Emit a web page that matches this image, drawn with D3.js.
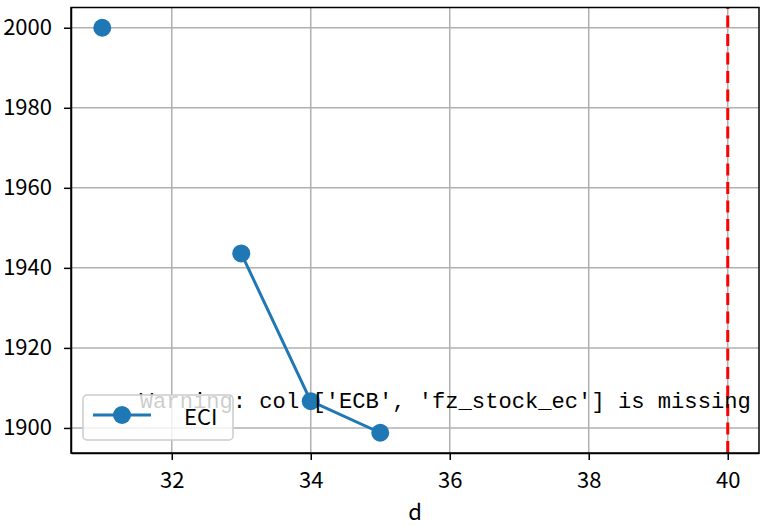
<!DOCTYPE html>
<html lang="zh">
<head>
    <meta charset="UTF-8">
    <title>ECI</title>
    <script src="https://d3js.org/d3.v7.min.js"></script>
    <style>
        body { margin: 0; background: #fff; }
        svg { display: block; font-family: "Noto Sans CJK SC", "DejaVu Sans", sans-serif; }
        .grid line { stroke: #b0b0b0; stroke-width: 1.5px; }
        .axis path, .axis line { stroke: #000; stroke-width: 1.5px; }
        .axis text { font-size: 22px; fill: #000; font-family: "Noto Sans CJK SC", sans-serif; }
    </style>
</head>
<body>
    <svg width="769" height="526"></svg>
    <script>
        // data
        const dVals = [31, 32, 33, 34, 35];
        const eciVals = [2000, null, 1943.6, 1906.7, 1898.8];
        const xTicks = [32, 34, 36, 38, 40];
        const yTicks = [1900, 1920, 1940, 1960, 1980, 2000];
        const vlineX = 40;
        const warnText = "Warning: col ['ECB', 'fz_stock_ec'] is missing";

        const width = 769, height = 526;
        const m = { left: 71, right: 10, top: 7.5, bottom: 73 };
        const iw = width - m.left - m.right, ih = height - m.top - m.bottom;

        const svg = d3.select("svg");
        const g = svg.append("g").attr("transform", `translate(${m.left},${m.top})`);

        // matplotlib style 5% margins
        const pad = (lo, hi) => [lo - (hi - lo) * 0.05, hi + (hi - lo) * 0.05];
        const yv = eciVals.filter(v => v != null);
        const x = d3.scaleLinear().domain(pad(d3.min(dVals), Math.max(d3.max(dVals), vlineX))).range([0, iw]);
        const y = d3.scaleLinear().domain(pad(d3.min(yv), d3.max(yv))).range([ih, 0]);

        // grid
        const grid = g.append("g").attr("class", "grid");
        grid.selectAll(".gx").data(xTicks).enter().append("line")
            .attr("x1", d => x(d)).attr("x2", d => x(d)).attr("y1", 0).attr("y2", ih);
        grid.selectAll(".gy").data(yTicks).enter().append("line")
            .attr("y1", d => y(d)).attr("y2", d => y(d)).attr("x1", 0).attr("x2", iw);

        // red dashed vertical line
        g.append("line")
            .attr("x1", x(vlineX)).attr("x2", x(vlineX))
            .attr("y1", ih).attr("y2", 0)
            .attr("stroke", "red").attr("stroke-width", 3)
            .attr("stroke-dasharray", "12,6.5");

        const pts = dVals.map((d, i) => ({ d: d, v: eciVals[i] }));
        const line = d3.line().defined(p => p.v != null).x(p => x(p.d)).y(p => y(p.v));
        g.append("path").datum(pts)
            .attr("fill", "none").attr("stroke", "#1f77b4").attr("stroke-width", 3)
            .attr("d", line);
        g.selectAll(".pt").data(pts.filter(p => p.v != null)).enter().append("circle")
            .attr("cx", p => x(p.d)).attr("cy", p => y(p.v)).attr("r", 9)
            .attr("fill", "#1f77b4");

        // warning text at axes fraction (0.1, 0.1)
        g.append("text")
            .attr("x", iw * 0.1).attr("y", ih * 0.9)
            .attr("font-family", "Liberation Mono, monospace")
            .attr("font-size", 22)
            .attr("textLength", 611).attr("lengthAdjust", "spacingAndGlyphs")
            .text(warnText);

        // axes
        g.append("g").attr("class", "axis")
            .attr("transform", `translate(0,${ih})`)
            .call(d3.axisBottom(x).tickValues(xTicks).tickFormat(d3.format("d"))
                .tickSize(7).tickPadding(12).tickSizeOuter(0));
        g.append("g").attr("class", "axis")
            .call(d3.axisLeft(y).tickValues(yTicks).tickFormat(d3.format("d"))
                .tickSize(7).tickPadding(12).tickSizeOuter(0));
        g.append("rect").attr("width", iw).attr("height", ih)
            .attr("fill", "none").attr("stroke", "#000").attr("stroke-width", 1.5);

        // legend
        const lg = g.append("g").attr("transform", `translate(12,${ih - 13 - 45})`);
        lg.append("rect").attr("width", 150).attr("height", 45).attr("rx", 4)
            .attr("fill", "#fff").attr("fill-opacity", 0.8)
            .attr("stroke", "#ccc").attr("stroke-width", 1.5);
        lg.append("line").attr("x1", 10).attr("x2", 68).attr("y1", 20).attr("y2", 20)
            .attr("stroke", "#1f77b4").attr("stroke-width", 3);
        lg.append("circle").attr("cx", 39).attr("cy", 20).attr("r", 9).attr("fill", "#1f77b4");
        lg.append("text").attr("x", 101).attr("y", 30).attr("font-size", 22).text("ECI");

        // x label
        svg.append("text").attr("x", m.left + iw / 2).attr("y", 520)
            .attr("text-anchor", "middle").attr("font-size", 22).text("d");
    </script>
</body>
</html>
